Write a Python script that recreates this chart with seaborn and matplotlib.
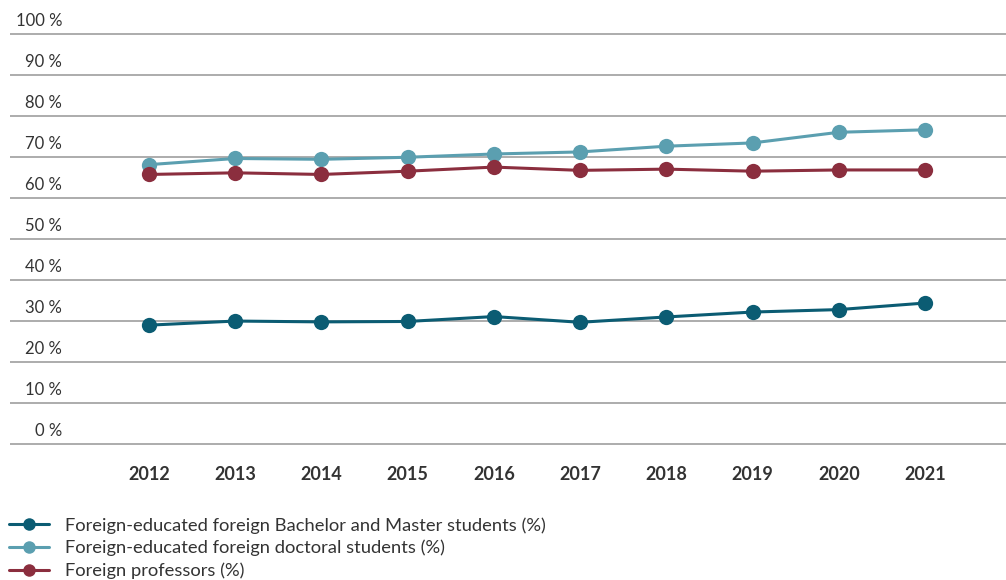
import matplotlib
matplotlib.use("Agg")
import matplotlib.pyplot as plt
import matplotlib.transforms as mtransforms
from matplotlib.lines import Line2D
import seaborn as sns
import pandas as pd

years = [2012, 2013, 2014, 2015, 2016, 2017, 2018, 2019, 2020, 2021]
bachelor_master = [28.9, 29.9, 29.7, 29.8, 31.0, 29.6, 30.9, 32.1, 32.7, 34.3]
doctoral = [68.1, 69.6, 69.4, 69.9, 70.7, 71.2, 72.6, 73.4, 76.0, 76.6]
professors = [65.7, 66.1, 65.7, 66.5, 67.5, 66.7, 67.0, 66.5, 66.8, 66.8]

series_names = [
    "Foreign-educated foreign Bachelor and Master students (%)",
    "Foreign-educated foreign doctoral students (%)",
    "Foreign professors (%)",
]
colors = ["#0b5c73", "#5b9fb0", "#8b2e3e"]
y_ticks = [0, 10, 20, 30, 40, 50, 60, 70, 80, 90, 100]

df = pd.concat([
    pd.DataFrame({"year": years, "value": vals, "series": name})
    for name, vals in zip(series_names, [bachelor_master, doctoral, professors])
])

sns.set_style("white")
plt.rcParams["font.family"] = ["Lato", "DejaVu Sans"]
text_color = "#333333"

W, H = 1006, 580
fig = plt.figure(figsize=(W / 100, H / 100), dpi=100)
# axes spans gridline area (pixel coords -> figure fraction)
ax_top, ax_bottom = 30, 448
ax = fig.add_axes([10 / W, 1 - ax_bottom / H, (W - 10) / W, (ax_bottom - ax_top) / H])

sns.lineplot(data=df, x="year", y="value", hue="series", hue_order=series_names,
             palette=colors, marker="o", markersize=11, markeredgewidth=0,
             linewidth=2.2, ax=ax, legend=False)

px_per_unit = 4.095
ax.set_ylim(-(ax_bottom - 443.5) / px_per_unit, 100 + (34 - ax_top) / px_per_unit)
step = 86.2
ax.set_xlim(2012 - (149 - 10) / step, 2021 + (1006 - 925) / step)

ax.set_yticks(y_ticks)
ax.yaxis.grid(True, color="#a6a6a6", linewidth=1.3)
ax.set_axisbelow(True)
ax.tick_params(axis="y", length=0, labelleft=False)

# y labels sit above their gridlines, right-aligned near the left edge
blend = mtransforms.blended_transform_factory(ax.transAxes, ax.transData)
shift = mtransforms.ScaledTranslation(0, 5 / 100, fig.dpi_scale_trans)
for v in y_ticks:
    ax.text((62 - 10) / (W - 10), v, f"{v} %", transform=blend + shift,
            ha="right", va="bottom", fontsize=12, color=text_color)

ax.set_xticks(years)
ax.set_xticklabels([str(y) for y in years], fontweight="bold", fontsize=13, color=text_color)
ax.tick_params(axis="x", length=0, pad=13)
ax.set_xlabel("")
ax.set_ylabel("")
for s in ax.spines.values():
    s.set_visible(False)

handles = [Line2D([], [], color=c, marker="o", markersize=9, markeredgewidth=0, linewidth=2.2)
           for c in colors]
fig.legend(handles, series_names, loc="upper left", bbox_to_anchor=(9 / W, 1 - 517 / H),
           frameon=False, fontsize=13.2, handlelength=2.2, handletextpad=0.85,
           labelspacing=0.34, borderpad=0, borderaxespad=0, labelcolor=text_color)

fig.savefig("out.png", dpi=100)
